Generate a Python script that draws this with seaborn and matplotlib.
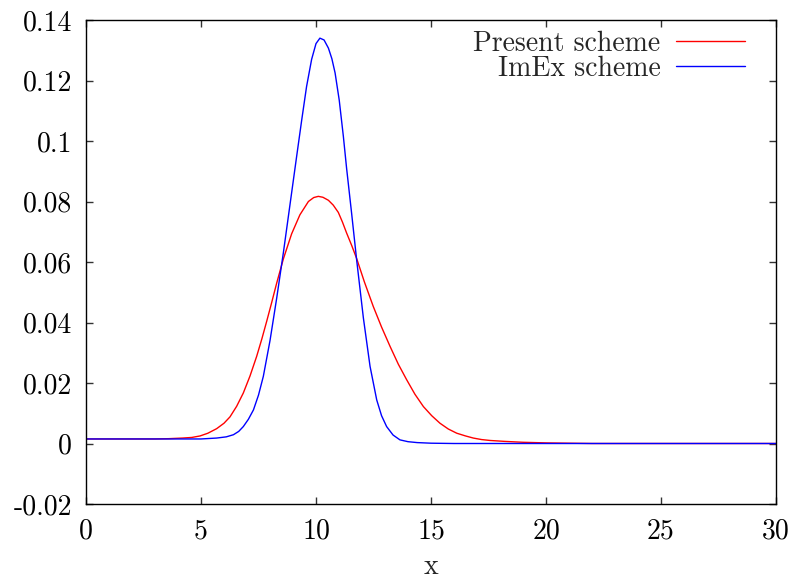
import numpy as np
import pandas as pd
import matplotlib
matplotlib.use("Agg")
import matplotlib.pyplot as plt
import seaborn as sns

# values
present_x = [0, 2, 3.0, 3.6, 4.2, 4.6, 4.96, 5.3, 5.68, 6.0, 6.26, 6.55, 6.84,
             7.13, 7.42, 7.65, 7.86, 8.08, 8.29, 8.58, 8.94, 9.3, 9.67, 9.9,
             10.1, 10.3, 10.54, 10.75, 10.97, 11.15, 11.33, 11.55, 11.77, 12.1,
             12.49, 12.85, 13.22, 13.58, 13.94, 14.3, 14.67, 15.03, 15.39,
             15.75, 16.12, 16.5, 16.84, 17.2, 17.57, 18.2, 19.0, 20, 21, 22, 30]
present_y = [0.0015, 0.0015, 0.0015, 0.0016, 0.0018, 0.0020, 0.0025, 0.0034,
             0.0049, 0.0067, 0.0088, 0.0123, 0.0167, 0.0223, 0.0288, 0.0347,
             0.0405, 0.0468, 0.0530, 0.0610, 0.0693, 0.0756, 0.0800, 0.0813,
             0.0817, 0.0814, 0.0804, 0.0788, 0.0764, 0.0732, 0.0696, 0.0655,
             0.0611, 0.0535, 0.0453, 0.0385, 0.0321, 0.0262, 0.0211, 0.0163,
             0.0122, 0.0092, 0.0067, 0.0048, 0.0034, 0.0025, 0.0018, 0.0013,
             0.0010, 0.0007, 0.0004, 0.0002, 0.0001, 0.0, 0.0]

imex_x = [0, 3, 5, 5.68, 6.1, 6.41, 6.64, 6.84, 7.06, 7.28, 7.5, 7.71, 8.0,
          8.29, 8.58, 8.87, 9.16, 9.38, 9.59, 9.81, 10.0, 10.17, 10.35, 10.54,
          10.69, 10.83, 11.01, 11.19, 11.33, 11.55, 11.77, 12.06, 12.35, 12.64,
          12.85, 13.07, 13.35, 13.65, 14.0, 14.4, 15, 16, 30]
imex_y = [0.0015, 0.0015, 0.0015, 0.0018, 0.0022, 0.0029, 0.0040, 0.0056,
          0.0080, 0.0111, 0.0160, 0.0222, 0.0340, 0.0480, 0.0630, 0.0790,
          0.0950, 0.1070, 0.1180, 0.1270, 0.1322, 0.1340, 0.1334, 0.1307,
          0.1272, 0.1225, 0.1135, 0.1015, 0.0910, 0.0760, 0.0605, 0.0415,
          0.0255, 0.0144, 0.0092, 0.0056, 0.0028, 0.0012, 0.0006, 0.0003,
          0.0001, 0.0, 0.0]

x_ticks = [0, 5, 10, 15, 20, 25, 30]
y_ticks = [-0.02, 0, 0.02, 0.04, 0.06, 0.08, 0.1, 0.12, 0.14]
y_tick_labels = ["-0.02", "0", "0.02", "0.04", "0.06", "0.08", "0.1", "0.12", "0.14"]

sns.set_style("ticks")
plt.rcParams["font.family"] = ["cmr10", "DejaVu Serif"]
plt.rcParams["axes.unicode_minus"] = False

df_present = pd.DataFrame({"x": present_x, "y": present_y})
df_imex = pd.DataFrame({"x": imex_x, "y": imex_y})

fig = plt.figure(figsize=(7.92, 5.81), dpi=100)
ax = fig.add_axes([86 / 792, 1 - 504 / 581, 690 / 792, 484 / 581])

sns.lineplot(data=df_present, x="x", y="y", ax=ax, color="#ff0000",
             linewidth=1.0, label="Present scheme")
sns.lineplot(data=df_imex, x="x", y="y", ax=ax, color="#0000ff",
             linewidth=1.0, label="ImEx scheme")

ax.set_xlim(0, 30)
ax.set_ylim(-0.02, 0.14)
ax.set_xticks(x_ticks)
ax.set_xticklabels([str(t) for t in x_ticks])
ax.set_yticks(y_ticks)
ax.set_yticklabels(y_tick_labels)
ax.tick_params(direction="in", length=5, width=1, top=True, right=True,
               labelsize=20, colors="#333333", labelcolor="black")
ax.tick_params(axis="x", pad=10)
ax.tick_params(axis="y", pad=10)
for s in ax.spines.values():
    s.set_linewidth(1.0)
    s.set_color("black")
    s.set_visible(True)

ax.set_xlabel("x", fontsize=20, labelpad=7)
ax.set_ylabel("")

ax.legend(loc="upper right", bbox_to_anchor=(659 / 690, 0.978), frameon=False,
          markerfirst=False, fontsize=20, handlelength=2.5, handletextpad=0.55,
          borderpad=0, borderaxespad=0, labelspacing=-0.05)

fig.savefig("out.png", dpi=100)
